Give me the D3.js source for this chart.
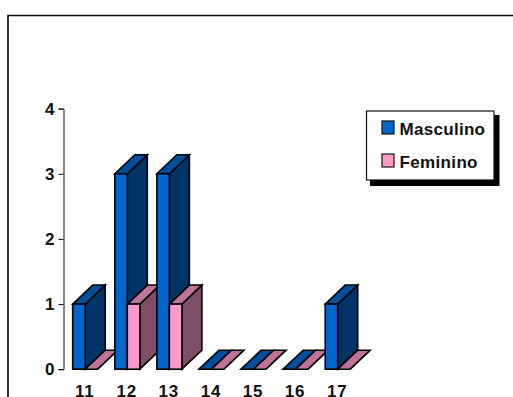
<!DOCTYPE html>
<html>
<head>
<meta charset="utf-8">
<script src="https://cdnjs.cloudflare.com/ajax/libs/d3/7.8.5/d3.min.js"></script>
<style>
html,body{margin:0;padding:0;background:#fff;overflow:hidden}
svg{display:block}
text{font-family:"Liberation Sans",Arial,sans-serif;font-weight:bold;fill:#111}
</style>
</head>
<body>
<svg id="chart" width="513" height="397"></svg>
<script>
const ages = ["11","12","13","14","15","16","17"];
const masculino = [1,3,3,0,0,0,1];
const feminino = [0,1,1,0,0,0,0];
const yTicks = [0,1,2,3,4];
const seriesNames = ["Masculino","Feminino"];
const palette = [
  {front:"#0066cc",top:"#004f9e",side:"#003366"},
  {front:"#ff99cc",top:"#bf7399",side:"#804d66"}
];

const svg = d3.select("#chart");
const depthX = 20, depthY = 19, barW = 12.5;

// outer chart frame: left and top rules only, running off the window
svg.append("path").attr("d","M8 397V15.5H513").attr("fill","none")
  .attr("stroke","#111").attr("stroke-width",1.7);

const y = d3.scaleLinear().domain([0,4]).range([369.2,108.6]);
const x = d3.scaleBand().domain(ages).range([62.3,356.9]).paddingInner(0).paddingOuter(0);

// value axis
const yAxis = d3.axisLeft(y).tickValues(yTicks).tickSize(5).tickPadding(4).tickFormat(d3.format("d"));
const gy = svg.append("g").attr("transform","translate(63.5,0)").call(yAxis);
gy.select(".domain").attr("stroke","#111");
gy.selectAll(".tick line").attr("stroke","#111");
gy.selectAll("text").style("font-size","17px").style("font-family",'"Liberation Sans",Arial,sans-serif').style("font-weight","bold").attr("fill","#111");

// one extruded bar: side and top faces first, then the front
function bar(g, x0, value, colors) {
  const x1 = x0 + barW, yTop = y(value), yBase = y(0);
  const line = d3.line();
  const stroke = s => s.attr("stroke","#000").attr("stroke-width",1.6).attr("stroke-linejoin","miter");
  if (value > 0) {
    stroke(g.append("path").attr("fill",colors.side).attr("d",line([[x1,yBase],[x1+depthX,yBase-depthY],[x1+depthX,yTop-depthY],[x1,yTop]])+"Z"));
  }
  stroke(g.append("path").attr("fill",colors.top).attr("d",line([[x0,yTop],[x0+depthX,yTop-depthY],[x1+depthX,yTop-depthY],[x1,yTop]])+"Z"));
  if (value > 0) {
    stroke(g.append("rect").attr("x",x0).attr("y",yTop).attr("width",barW).attr("height",yBase-yTop).attr("fill",colors.front));
  }
}

const plot = svg.append("g");
ages.forEach((age,i) => {
  const g = plot.append("g");
  const left = x(age) + 10.4;
  bar(g, left, masculino[i], palette[0]);
  bar(g, left + barW, feminino[i], palette[1]);
});

// category labels
svg.append("g").selectAll("text").data(ages).join("text")
  .attr("x", d => x(d) + 10.4 + barW - 0.5)
  .attr("y", 396.5)
  .attr("text-anchor","middle")
  .style("font-size","17px")
  .style("letter-spacing","0.8px")
  .text(d => d);

// legend box with its drop shadow
const legend = svg.append("g");
legend.append("rect").attr("x",370).attr("y",115).attr("width",129.5).attr("height",71).attr("fill","#000");
legend.append("rect").attr("x",366.5).attr("y",111).attr("width",127.5).attr("height",69).attr("fill","#fff").attr("stroke","#111").attr("stroke-width",1.2);
seriesNames.forEach((name,i) => {
  const ly = [121,154][i];
  legend.append("rect").attr("x",382).attr("y",ly).attr("width",12).attr("height",13)
    .attr("fill",palette[i].front).attr("stroke","#111").attr("stroke-width",1.2);
  legend.append("text").attr("x",399.5).attr("y",ly+14).style("font-size","17px").attr("textLength",[85.5,78][i]).attr("lengthAdjust","spacing").text(name);
});
</script>
</body>
</html>
